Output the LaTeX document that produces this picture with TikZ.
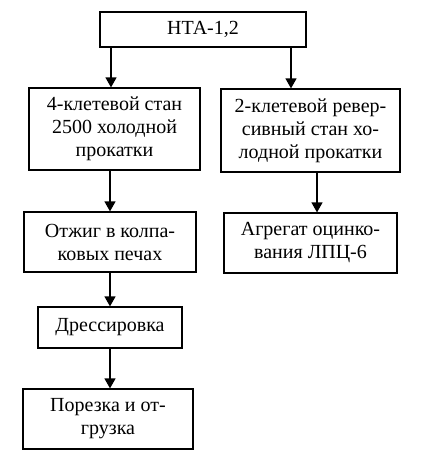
\documentclass[tikz,border=0pt]{standalone}
\usepackage{fontspec}
\setmainfont{Liberation Serif}
\usetikzlibrary{arrows.meta}
\begin{document}
\begin{tikzpicture}[x=1pt,y=-1pt,
  box/.style={draw, line width=1.2pt, align=center, inner sep=0pt,
    font=\fontsize{20}{23}\selectfont},
  arr/.style={line width=1.2pt, -{Triangle[length=10pt,width=11pt]}}]
\useasboundingbox (0,0) rectangle (423,471);
\node[box, minimum width=206pt, minimum height=35pt] (top) at (203,29.5) {НТА-1,2};
\node[box, minimum width=171pt, minimum height=82pt] (b2) at (114.5,129) {4-клетевой стан\\2500 холодной\\прокатки};
\node[box, minimum width=179pt, minimum height=83pt] (b3) at (310.5,130.5) {2-клетевой ревер-\\сивный стан хо-\\лодной прокатки};
\node[box, minimum width=172pt, minimum height=60pt] (b4) at (110,242) {Отжиг в колпа-\\ковых печах};
\node[box, minimum width=173pt, minimum height=60pt] (b5) at (310.5,243) {Агрегат оцинко-\\вания ЛПЦ-6};
\node[box, minimum width=144pt, minimum height=41pt] (b6) at (110,327.5) {Дрессировка};
\node[box, minimum width=170pt, minimum height=60pt] (b7) at (108,419) {Порезка и от-\\грузка};
\draw[arr] ([xshift=-3.5pt]b2.north |- top.south) -- ([xshift=-3.5pt]b2.north);
\draw[arr] ([xshift=-19.5pt]b3.north |- top.south) -- ([xshift=-19.5pt]b3.north);
\draw[arr] ([xshift=-4.5pt]b2.south) -- ([xshift=-4.5pt]b2.south |- b4.north);
\draw[arr] ([xshift=6.5pt]b3.south) -- ([xshift=6.5pt]b3.south |- b5.north);
\draw[arr] (b4.south) -- (b4.south |- b6.north);
\draw[arr] (b6.south) -- (b6.south |- b7.north);
\end{tikzpicture}
\end{document}
